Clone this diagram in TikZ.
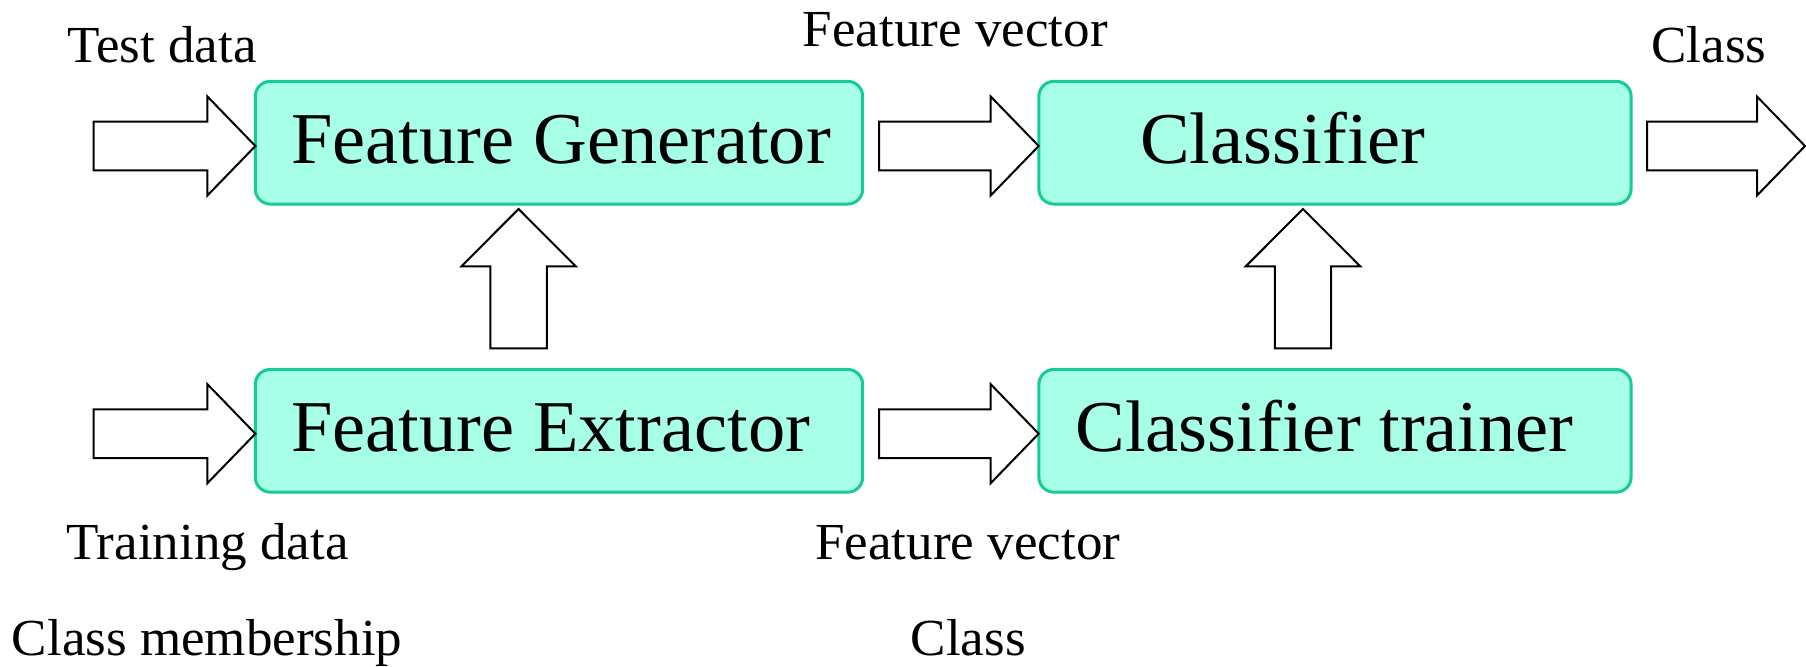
\documentclass[tikz,border=0pt]{standalone}
\usepackage{fontspec}
\setmainfont[FakeStretch=1.02]{Liberation Serif}
\definecolor{boxfill}{RGB}{166,255,230}
\definecolor{boxline}{RGB}{20,204,153}
\newcommand\RArrow[3]{% x0, tip x, centre y
  \draw[blockarrow] ({#1},{#3-24.3}) -- ({#2-48},{#3-24.3}) -- ({#2-48},{#3-49.5}) -- ({#2},{#3})
    -- ({#2-48},{#3+49.5}) -- ({#2-48},{#3+24.3}) -- ({#1},{#3+24.3}) -- cycle;}
\newcommand\UArrow[3]{% centre x, bottom y, tip y
  \draw[blockarrow] ({#1-28.2},{#2}) -- ({#1-28.2},{#3+57.3}) -- ({#1-57.2},{#3+57.3}) -- ({#1},{#3})
    -- ({#1+57.2},{#3+57.3}) -- ({#1+28.2},{#3+57.3}) -- ({#1+28.2},{#2}) -- cycle;}
\begin{document}
\begin{tikzpicture}[x=0.5pt,y=-0.5pt,
  stagebox/.style={draw=boxline, fill=boxfill, line width=1.5pt, rounded corners=7.5pt,
    minimum height=61.35pt, inner sep=0pt},
  boxtext/.style={anchor=base west, inner sep=0pt, font=\fontsize{36.5}{40}\selectfont},
  lbl/.style={anchor=base west, inner sep=0pt, font=\fontsize{26}{30}\selectfont},
  blockarrow/.style={draw=black, fill=white, line width=1pt, line join=miter}]
\useasboundingbox (0,0) rectangle (1806,666);

% boxes
\node[stagebox, minimum width=303.7pt] (fg) at (559,142.7) {};
\node[stagebox, minimum width=296.1pt] (cl) at (1335,142.7) {};
\node[stagebox, minimum width=303.7pt] (fe) at (559,430.8) {};
\node[stagebox, minimum width=296.1pt] (ct) at (1335,430.8) {};

% box texts
\node[boxtext] (tfg) at (291,163.3) {Feature Generator};
\node[boxtext] (tcl) at (1139.8,163.3) {Classifier};
\node[boxtext] (tfe) at (291,451.7) {Feature Extractor};
\node[boxtext] (tct) at (1075,451.7) {Classifier trainer};

% block arrows
\RArrow{93.6}{255.4}{146}
\RArrow{879}{1038.7}{146}
\RArrow{1647}{1805}{146}
\RArrow{93.6}{255.4}{433.7}
\RArrow{879}{1038.7}{433.7}
\UArrow{518.6}{348.3}{209}
\UArrow{1303}{348.3}{209}

% labels
\node[lbl] (l1) at (67,62.7) {Test data};
\node[lbl] (l2) at (802.5,46.7) {Feature vector};
\node[lbl] (l3) at (1651,62.7) {Class};
\node[lbl] (l4) at (66,559.3) {Training data};
\node[lbl] (l5) at (815,559.3) {Feature vector};
\node[lbl] (l6) at (11.5,655) {Class membership};
\node[lbl] (l7) at (910.4,655) {Class};
\end{tikzpicture}
\end{document}
